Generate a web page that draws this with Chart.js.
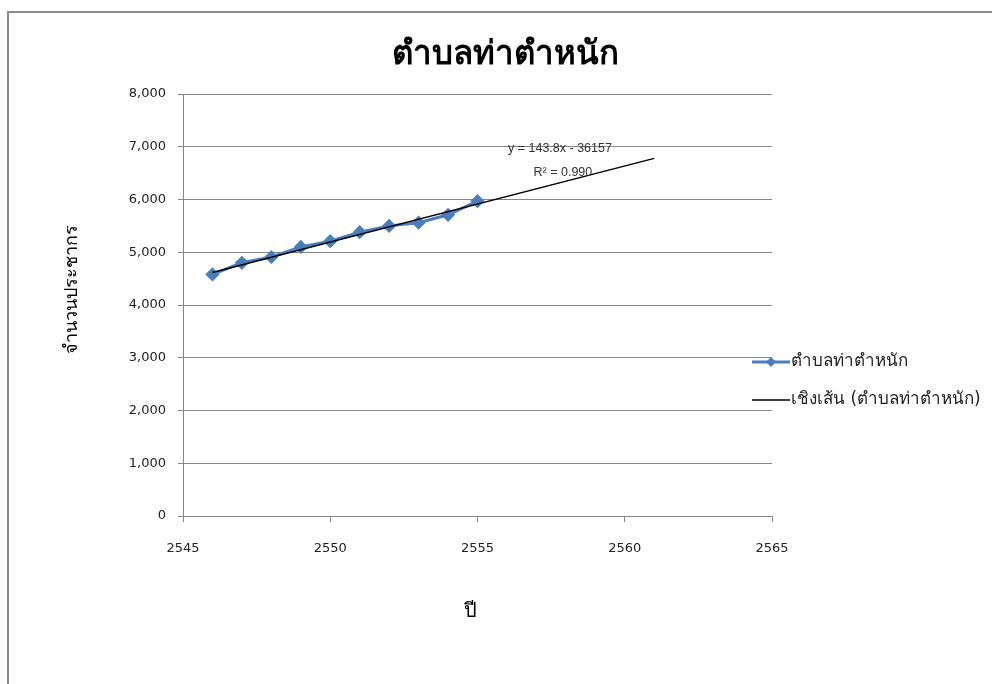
<!DOCTYPE html>
<html>
<head>
<meta charset="utf-8">
<script src="https://cdn.jsdelivr.net/npm/chart.js@4.4.1/dist/chart.umd.min.js"></script>
<style>
  html, body { margin: 0; background: #fff; overflow: hidden; }
  canvas { display: block; }
</style>
</head>
<body>
<canvas id="chart" width="992" height="684"></canvas>
<script>
// data
const years = [2546, 2547, 2548, 2549, 2550, 2551, 2552, 2553, 2554, 2555];
const population = [4580, 4800, 4910, 5100, 5210, 5380, 5500, 5560, 5710, 5970];
const trendYears = [2546, 2561];
const trendValues = [4615, 6780];
const seriesName = 'ตำบลท่าตำหนัก';
const trendName = 'เชิงเส้น (ตำบลท่าตำหนัก)';
const yTitle = 'จำนวนประชากร';
const xTitle = 'ปี';
const equationLines = ['y = 143.8x - 36157', 'R² = 0.990'];

const tickFont = { family: 'DejaVu Sans', size: 13 };
const gridGray = '#868686';

// outer frame + titles, placed like the Excel export
const chartText = {
    id: 'chartText',
    beforeDraw(chart) {
        const ctx = chart.ctx;
        ctx.save();
        ctx.fillStyle = '#fff';
        ctx.fillRect(0, 0, chart.width, chart.height);
        ctx.strokeStyle = '#8a8a8a';
        ctx.lineWidth = 2;
        ctx.beginPath();
        ctx.moveTo(7, 12);
        ctx.lineTo(chart.width + 5, 12);
        ctx.moveTo(8, 11);
        ctx.lineTo(8, chart.height + 5);
        ctx.stroke();
        ctx.restore();
    },
    afterDraw(chart) {
        const ctx = chart.ctx;
        ctx.save();
        ctx.fillStyle = '#000';
        ctx.textAlign = 'center';
        ctx.textBaseline = 'middle';
        ctx.font = 'bold 33px "DejaVu Sans", sans-serif';
        ctx.fillText(seriesName, 505, 55);
        ctx.font = '20px "DejaVu Sans", sans-serif';
        ctx.fillText(xTitle, 470, 612);
        ctx.translate(72, 289);
        ctx.rotate(-Math.PI / 2);
        ctx.font = '18px "DejaVu Sans", sans-serif';
        ctx.fillText(yTitle, 0, 0);
        ctx.restore();
    }
};

// legend drawn the Excel way, to the right of the plot
const sideLegend = {
    id: 'sideLegend',
    afterDraw(chart) {
        const ctx = chart.ctx;
        const x0 = chart.chartArea.right - 20;
        let y = 362;
        ctx.save();
        ctx.font = '17px "DejaVu Sans", "Noto Sans", sans-serif';
        ctx.textBaseline = 'middle';
        chart.data.datasets.forEach(ds => {
            ctx.strokeStyle = ds.borderColor;
            ctx.lineWidth = ds.borderWidth;
            ctx.beginPath();
            ctx.moveTo(x0, y);
            ctx.lineTo(x0 + 38, y);
            ctx.stroke();
            if (ds.pointRadius > 0) {
                ctx.fillStyle = ds.pointBackgroundColor;
                ctx.beginPath();
                ctx.moveTo(x0 + 19, y - 5);
                ctx.lineTo(x0 + 24, y);
                ctx.lineTo(x0 + 19, y + 5);
                ctx.lineTo(x0 + 14, y);
                ctx.closePath();
                ctx.fill();
            }
            ctx.fillStyle = '#222';
            ctx.fillText(ds.label, x0 + 39, y);
            y += 38;
        });
        ctx.restore();
    }
};

// trendline equation next to the line end
const trendLabel = {
    id: 'trendLabel',
    afterDatasetsDraw(chart) {
        const ctx = chart.ctx;
        const xs = chart.scales.x;
        const ys = chart.scales.y;
        ctx.save();
        ctx.font = '12.5px "Liberation Sans", Arial, sans-serif';
        ctx.fillStyle = '#333';
        ctx.textAlign = 'center';
        ctx.textBaseline = 'middle';
        ctx.fillText(equationLines[0], xs.getPixelForValue(2557.8), ys.getPixelForValue(6960));
        ctx.fillText(equationLines[1], xs.getPixelForValue(2557.9), ys.getPixelForValue(6510));
        ctx.restore();
    }
};

function fixWidth(w) {
    return scale => {
        scale.width = w;
        scale.paddingTop = 0; scale.paddingBottom = 0;
    };
}
function fixHeight(h) {
    return scale => {
        scale.height = h;
        scale.paddingLeft = 0; scale.paddingRight = 0;
    };
}

new Chart(document.getElementById('chart'), {
    type: 'scatter',
    data: {
        datasets: [{
            label: seriesName,
            data: years.map((yr, i) => ({ x: yr, y: population[i] })),
            showLine: true,
            borderColor: '#4a7ebb',
            backgroundColor: '#4a7ebb',
            pointBackgroundColor: '#4a7ebb',
            pointBorderColor: '#4a7ebb',
            borderWidth: 3,
            pointStyle: 'rectRot',
            pointRadius: 5,
            pointHoverRadius: 5,
            order: 2
        }, {
            label: trendName,
            data: trendYears.map((yr, i) => ({ x: yr, y: trendValues[i] })),
            showLine: true,
            borderColor: '#000',
            backgroundColor: '#000',
            borderWidth: 1.5,
            pointRadius: 0,
            order: 1
        }]
    },
    options: {
        responsive: false,
        animation: false,
        layout: { padding: { left: 0, right: 220, top: 94, bottom: 0 } },
        plugins: {
            legend: { display: false },
            tooltip: { enabled: false },
            title: { display: false }
        },
        scales: {
            x: {
                type: 'linear',
                min: 2545,
                max: 2565,
                afterFit: fixHeight(168),
                ticks: { stepSize: 5, color: '#222', font: tickFont, padding: 19, maxRotation: 0,
                         callback: v => String(v) },
                grid: { drawOnChartArea: false, drawTicks: true, tickLength: 6, color: gridGray },
                border: { color: gridGray, width: 1 }
            },
            y: {
                min: 0,
                max: 8000,
                afterFit: fixWidth(183),
                ticks: { stepSize: 1000, color: '#222', font: tickFont, padding: 12,
                         callback: v => v.toLocaleString('en-US') },
                grid: { color: gridGray, tickLength: 5 },
                border: { color: gridGray, width: 1 }
            }
        }
    },
    plugins: [chartText, sideLegend, trendLabel]
});
</script>
</body>
</html>
